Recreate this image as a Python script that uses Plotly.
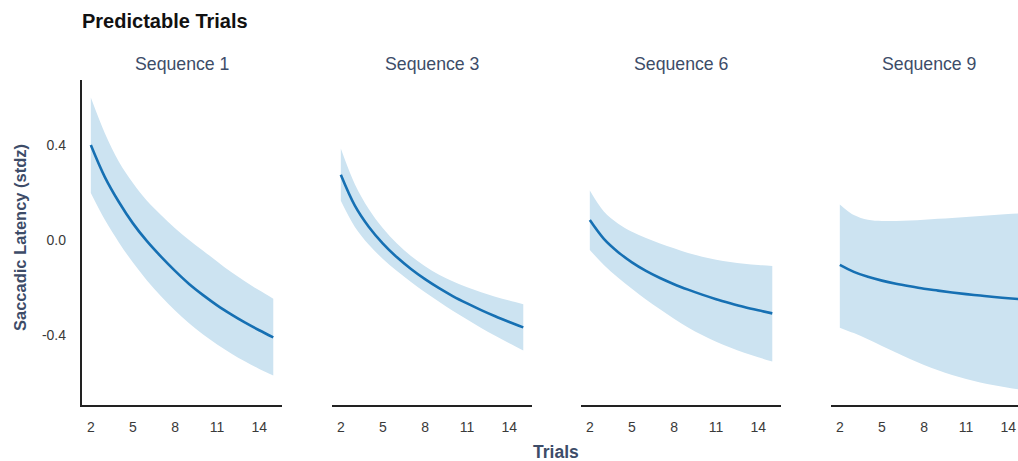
import plotly.graph_objects as go

# ---------------- data ----------------
trials = [2, 3, 4, 5, 6, 7, 8, 9, 10, 11, 12, 13, 14, 15]
panel_titles = ["Sequence 1", "Sequence 3", "Sequence 6", "Sequence 9"]

seq1_mean = [0.40, 0.265, 0.16, 0.07, -0.005, -0.07, -0.13, -0.185, -0.232, -0.275, -0.313, -0.348, -0.38, -0.41]
seq1_upper = [0.60, 0.45, 0.33, 0.24, 0.165, 0.105, 0.05, 0.0, -0.045, -0.09, -0.135, -0.175, -0.212, -0.247]
seq1_lower = [0.198, 0.085, -0.01, -0.095, -0.17, -0.237, -0.297, -0.35, -0.398, -0.44, -0.478, -0.512, -0.543, -0.57]

seq3_mean = [0.275, 0.145, 0.055, -0.015, -0.073, -0.122, -0.165, -0.203, -0.237, -0.267, -0.295, -0.321, -0.345, -0.368]
seq3_upper = [0.385, 0.235, 0.13, 0.05, -0.015, -0.067, -0.11, -0.146, -0.175, -0.199, -0.22, -0.239, -0.255, -0.271]
seq3_lower = [0.165, 0.055, -0.02, -0.08, -0.131, -0.177, -0.22, -0.26, -0.299, -0.335, -0.37, -0.403, -0.435, -0.465]

seq6_mean = [0.084, 0.005, -0.05, -0.094, -0.13, -0.16, -0.186, -0.209, -0.23, -0.249, -0.266, -0.282, -0.296, -0.309]
seq6_upper = [0.208, 0.12, 0.07, 0.035, 0.008, -0.015, -0.035, -0.055, -0.07, -0.083, -0.093, -0.10, -0.105, -0.109]
seq6_lower = [-0.042, -0.105, -0.158, -0.205, -0.25, -0.292, -0.332, -0.368, -0.40, -0.428, -0.453, -0.475, -0.494, -0.512]

seq9_mean = [-0.105, -0.134, -0.155, -0.171, -0.184, -0.195, -0.205, -0.213, -0.221, -0.228, -0.234, -0.24, -0.245, -0.25]
seq9_upper = [0.15, 0.105, 0.085, 0.08, 0.08, 0.082, 0.085, 0.089, 0.093, 0.097, 0.101, 0.105, 0.109, 0.113]
seq9_lower = [-0.369, -0.392, -0.418, -0.446, -0.474, -0.501, -0.526, -0.548, -0.568, -0.585, -0.60, -0.612, -0.622, -0.631]

x_tickvals = [2, 5, 8, 11, 14]
y_tickvals = [0.4, 0.0, -0.4]
y_ticktext = ["0.4", "0.0", "-0.4"]

means = [seq1_mean, seq3_mean, seq6_mean, seq9_mean]
uppers = [seq1_upper, seq3_upper, seq6_upper, seq9_upper]
lowers = [seq1_lower, seq3_lower, seq6_lower, seq9_lower]

# ---------------- styling ----------------
W, H = 1018, 461
ML, MR, MT, MB = 81, 0, 80, 56
PW = W - ML - MR
PH = H - MT - MB

LINE_COL = "#1670b3"
BAND_COL = "#cce3f1"
AXIS_COL = "#222222"
TITLE_COL = "#3d4c68"
TICK_COL = "#3a3a3a"
FONT = "Liberation Sans, Arial, sans-serif"

def px_x(p):
    return (p - ML) / PW

def px_y(p):
    return (H - MB - p) / PH

panel_px = [(81.7, 282.4), (331.7, 532.4), (580.7, 781.4), (830.7, 1018.0)]
full_centers = [182.0, 432.0, 681.0, 929.0]
x_range_full = [1.35, 15.65]
px_per_unit = (panel_px[0][1] - panel_px[0][0]) / (x_range_full[1] - x_range_full[0])

fig = go.Figure()

for i in range(4):
    xa = "x" if i == 0 else f"x{i+1}"
    ya = "y" if i == 0 else f"y{i+1}"
    fig.add_trace(go.Scatter(x=trials, y=lowers[i], mode="lines", line=dict(width=0, shape="spline", smoothing=1.0),
                             hoverinfo="skip", showlegend=False, xaxis=xa, yaxis=ya))
    fig.add_trace(go.Scatter(x=trials, y=uppers[i], mode="lines", line=dict(width=0, shape="spline", smoothing=1.0),
                             fill="tonexty", fillcolor=BAND_COL, hoverinfo="skip", showlegend=False, xaxis=xa, yaxis=ya))
    fig.add_trace(go.Scatter(x=trials, y=means[i], mode="lines", line=dict(width=2.6, color=LINE_COL, shape="spline", smoothing=1.0),
                             showlegend=False, xaxis=xa, yaxis=ya))

layout = dict(
    width=W, height=H,
    margin=dict(l=ML, r=MR, t=MT, b=MB),
    paper_bgcolor="white", plot_bgcolor="white",
    font=dict(family=FONT, color=TICK_COL),
    showlegend=False,
    title=dict(text="<b>Predictable Trials</b>", x=82 / W, xanchor="left", xref="container",
               y=1 - 20.5 / H, yanchor="middle", yref="container",
               font=dict(family=FONT, size=20, color="#111111")),
)

for i in range(4):
    key_x = "xaxis" if i == 0 else f"xaxis{i+1}"
    key_y = "yaxis" if i == 0 else f"yaxis{i+1}"
    left, right = panel_px[i]
    rng = list(x_range_full)
    if i == 3:
        rng = [x_range_full[0], x_range_full[0] + (right - left) / px_per_unit]
    layout[key_x] = dict(
        domain=[max(0, px_x(left)), min(1, px_x(right))],
        range=rng, anchor="y" if i == 0 else f"y{i+1}",
        tickmode="array", tickvals=x_tickvals,
        showgrid=False, zeroline=False,
        showline=True, linecolor=AXIS_COL, linewidth=1.8,
        ticks="", ticklabelstandoff=8,
        tickfont=dict(family=FONT, size=14, color=TICK_COL),
        fixedrange=True,
    )
    ydict = dict(
        domain=[0, 1], range=[-0.6947, 0.6737],
        anchor="x" if i == 0 else f"x{i+1}",
        showgrid=False, zeroline=False, fixedrange=True,
    )
    if i == 0:
        ydict.update(showline=True, linecolor=AXIS_COL, linewidth=1.8,
                     tickmode="array", tickvals=y_tickvals, ticktext=y_ticktext,
                     ticks="", ticklabelstandoff=11,
                     tickfont=dict(family=FONT, size=14, color=TICK_COL))
    else:
        ydict.update(matches="y", showline=False, showticklabels=False, ticks="")
    layout[key_y] = ydict

annotations = []
for i in range(4):
    annotations.append(dict(text=panel_titles[i], x=px_x(full_centers[i]), y=px_y(64), xref="paper", yref="paper",
                            showarrow=False, xanchor="center", yanchor="middle",
                            font=dict(family=FONT, size=17.7, color=TITLE_COL)))
annotations.append(dict(text="<b>Saccadic Latency (stdz)</b>", x=px_x(20), y=px_y(238), xref="paper", yref="paper",
                        showarrow=False, textangle=-90, xanchor="center", yanchor="middle",
                        font=dict(family=FONT, size=16.5, color=TITLE_COL)))
annotations.append(dict(text="<b>Trials</b>", x=px_x(555.5), y=px_y(452), xref="paper", yref="paper",
                        showarrow=False, xanchor="center", yanchor="middle",
                        font=dict(family=FONT, size=17.5, color=TITLE_COL)))
layout["annotations"] = annotations

fig.update_layout(**layout)
fig.write_html("out.html", config={"displayModeBar": False})
